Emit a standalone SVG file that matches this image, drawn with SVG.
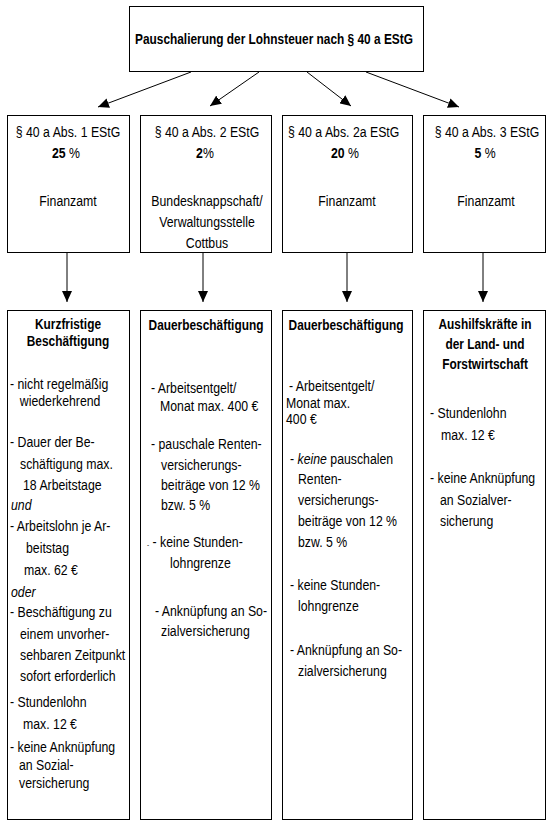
<svg xmlns="http://www.w3.org/2000/svg" width="552" height="827" viewBox="0 0 552 827">
<defs>
<style>
.box{fill:#fff;stroke:#000;stroke-width:1}
text{font-family:'Liberation Sans',Arial,sans-serif;font-size:15px;fill:#000;transform-box:fill-box;transform-origin:left center;transform:scaleX(0.82)}
text.c{text-anchor:middle;transform-origin:center center}
.b{font-weight:bold}
.i{font-style:italic}
.ttl{font-size:14.5px;font-weight:bold}
.conn line{stroke:#000;stroke-width:1;fill:none}
</style>
<marker id="ah" markerUnits="userSpaceOnUse" markerWidth="11" markerHeight="10" refX="11" refY="5" orient="auto" viewBox="0 0 11 10">
<path d="M0,0 L11,5 L0,10 z" fill="#000"/>
</marker>
</defs>
<rect width="552" height="827" fill="#fff"/>

<g id="connectors" class="conn">
<line x1="191" y1="72" x2="98" y2="107" marker-end="url(#ah)"/>
<line x1="259" y1="72" x2="210" y2="106" marker-end="url(#ah)"/>
<line x1="307" y1="72" x2="351" y2="106" marker-end="url(#ah)"/>
<line x1="366" y1="72" x2="459" y2="107" marker-end="url(#ah)"/>
<line x1="65" y1="163" x2="65" y2="187" marker-end="url(#ah)"/>
<line x1="205" y1="163" x2="205" y2="187" marker-end="url(#ah)"/>
<line x1="346" y1="163" x2="346" y2="187" marker-end="url(#ah)"/>
<line x1="485" y1="163" x2="485" y2="187" marker-end="url(#ah)"/>
<line x1="67" y1="253" x2="67" y2="302" marker-end="url(#ah)"/>
<line x1="203" y1="253" x2="203" y2="302" marker-end="url(#ah)"/>
<line x1="347" y1="253" x2="347" y2="302" marker-end="url(#ah)"/>
<line x1="483" y1="253" x2="483" y2="302" marker-end="url(#ah)"/>
</g>

<g id="top">
<rect class="box" x="129.5" y="6.5" width="294" height="65"/>
<text class="ttl c" x="274" y="44">Pauschalierung der Lohnsteuer nach § 40 a EStG</text>
</g>

<g id="m1">
<rect class="box" x="7.5" y="115.5" width="122" height="137"/>
<text class="c" x="68" y="137">§ 40 a Abs. 1 EStG</text>
<text class="c" x="66" y="158"><tspan class="b">25</tspan> %</text>
<text class="c" x="68" y="206">Finanzamt</text>
</g>

<g id="m2">
<rect class="box" x="140.5" y="115.5" width="131" height="137"/>
<text class="c" x="207" y="137">§ 40 a Abs. 2 EStG</text>
<text class="c" x="205" y="158"><tspan class="b">2</tspan>%</text>
<text class="c" x="207" y="206">Bundesknappschaft/</text>
<text class="c" x="207" y="227">Verwaltungsstelle</text>
<text class="c" x="207" y="248">Cottbus</text>
</g>

<g id="m3">
<rect class="box" x="282.5" y="115.5" width="130" height="137"/>
<text x="288" y="137">§ 40 a Abs. 2a EStG</text>
<text class="c" x="345" y="158"><tspan class="b">20</tspan> %</text>
<text class="c" x="347" y="206">Finanzamt</text>
</g>

<g id="m4">
<rect class="box" x="423.5" y="115.5" width="122" height="137"/>
<text class="c" x="487" y="137">§ 40 a Abs. 3 EStG</text>
<text class="c" x="485" y="158"><tspan class="b">5</tspan> %</text>
<text class="c" x="486" y="206">Finanzamt</text>
</g>

<g id="b1">
<rect class="box" x="7.5" y="310.5" width="122" height="509"/>
<text class="ttl c" x="68" y="329">Kurzfristige</text>
<text class="ttl c" x="68" y="346">Beschäftigung</text>
<text x="10" y="389">- nicht regelmäßig</text>
<text x="20" y="406">wiederkehrend</text>
<text x="10" y="447">- Dauer der Be-</text>
<text x="20" y="469">schäftigung max.</text>
<text x="23" y="490">18 Arbeitstage</text>
<text class="i" x="11" y="510">und</text>
<text x="10" y="531">- Arbeitslohn je Ar-</text>
<text x="26" y="553">beitstag</text>
<text x="24" y="575">max. 62 €</text>
<text class="i" x="11" y="597">oder</text>
<text x="10" y="617">- Beschäftigung zu</text>
<text x="20" y="639">einem unvorher-</text>
<text x="20" y="660">sehbaren Zeitpunkt</text>
<text x="20" y="681">sofort erforderlich</text>
<text x="10" y="707">- Stundenlohn</text>
<text x="23" y="729">max. 12 €</text>
<text x="10" y="752">- keine Anknüpfung</text>
<text x="19" y="770">an Sozial-</text>
<text x="19" y="788">versicherung</text>
</g>

<g id="b2">
<rect class="box" x="140.5" y="310.5" width="131" height="509"/>
<text class="ttl c" x="206" y="330">Dauerbeschäftigung</text>
<text x="151" y="393">- Arbeitsentgelt/</text>
<text x="160" y="411">Monat max. 400 €</text>
<text x="151" y="449">- pauschale Renten-</text>
<text x="161" y="470">versicherungs-</text>
<text x="161" y="490">beiträge von 12 %</text>
<text x="161" y="510">bzw. 5 %</text>
<text x="147" y="547"><tspan font-size="8">-</tspan> - keine Stunden-</text>
<text x="170" y="568">lohngrenze</text>
<text x="155" y="616">- Anknüpfung an So-</text>
<text x="161" y="636">zialversicherung</text>
</g>

<g id="b3">
<rect class="box" x="282.5" y="310.5" width="130" height="509"/>
<text class="ttl c" x="346" y="330">Dauerbeschäftigung</text>
<text x="289" y="391">- Arbeitsentgelt/</text>
<text x="286" y="408">Monat max.</text>
<text x="286" y="424">400 €</text>
<text x="290" y="464">- <tspan class="i">keine</tspan> pauschalen</text>
<text x="298" y="484">Renten-</text>
<text x="298" y="505">versicherungs-</text>
<text x="298" y="526">beiträge von 12 %</text>
<text x="298" y="547">bzw. 5 %</text>
<text x="290" y="590">- keine Stunden-</text>
<text x="298" y="611">lohngrenze</text>
<text x="290" y="655">- Anknüpfung an So-</text>
<text x="298" y="676">zialversicherung</text>
</g>

<g id="b4">
<rect class="box" x="423.5" y="310.5" width="122" height="509"/>
<text class="ttl c" x="485" y="329">Aushilfskräfte in</text>
<text class="ttl c" x="485" y="349">der Land- und</text>
<text class="ttl c" x="485" y="369">Forstwirtschaft</text>
<text x="430" y="418">- Stundenlohn</text>
<text x="441" y="440">max. 12 €</text>
<text x="430" y="483">- keine Anknüpfung</text>
<text x="440" y="505">an Sozialver-</text>
<text x="440" y="526">sicherung</text>
</g>
</svg>
